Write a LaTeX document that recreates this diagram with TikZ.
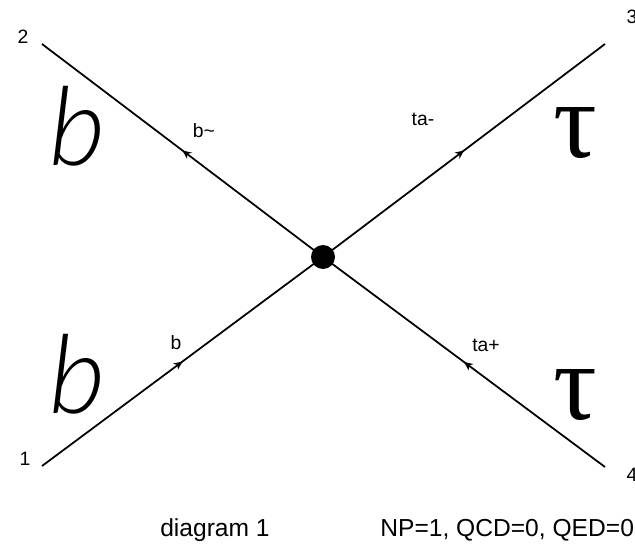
\documentclass[tikz,border=0pt]{standalone}
\usepackage{fontspec}
\setmainfont{Liberation Sans}
\newfontfamily\taufont{Liberation Serif}
\newfontfamily\thinfont{Lato Light}
\usetikzlibrary{arrows.meta,decorations.markings}

\begin{document}
\begin{tikzpicture}[x=0.02cm, y=-0.02cm, >={Stealth[length=5pt,width=4.5pt]},
    fermion/.style={line width=1pt, postaction={decorate},
      decoration={markings, mark=at position 0.5 with {\arrow{>}}}},
    leg/.style={font=\fontsize{11}{13}\selectfont, inner sep=0pt},
    part/.style={font=\fontsize{11}{13}\selectfont, inner sep=0pt},
    big/.style={font=\fontsize{62}{64}\selectfont\thinfont\itshape, inner sep=0pt},
    bigtau/.style={font=\fontsize{62}{64}\selectfont\taufont, inner sep=0pt},
    caption/.style={font=\fontsize{14}{16}\selectfont, inner sep=0pt}]
    \useasboundingbox (0,0) rectangle (635,544);
    \coordinate (p1) at (42,466);
    \coordinate (p2) at (42,44);
    \coordinate (p3) at (605,44);
    \coordinate (p4) at (605,467);
    \node[circle, fill, inner sep=0pt, minimum size=0.48cm] (vtx) at (323,257) {};
    \draw[fermion] (p1) -- (vtx.center);
    \draw[fermion] (vtx.center) -- (p2);
    \draw[fermion] (vtx.center) -- (p3);
    \draw[fermion] (p4) -- (vtx.center);
    % leg numbers
    \node[leg] (n1) at (25,459) {1};
    \node[leg] (n2) at (23,37) {2};
    \node[leg] (n3) at (632,17) {3};
    \node[leg] (n4) at (632,475) {4};
    % particle names
    \node[part] (lb) at (176,343) {b};
    \node[part] (lbb) at (204,131) {b\textasciitilde};
    \node[part] (lta) at (423,119) {ta-};
    \node[part] (ltp) at (486,345) {ta+};
    \node[big] (bup) at (78,126) {b};
    \node[big] (bdn) at (78,374) {b};
    \node[bigtau] (tup) at (575,133) {τ};
    \node[bigtau] (tdn) at (575,395) {τ};
    % captions
    \node[caption] (dia) at (215,530) {diagram 1};
    \node[caption, anchor=west] (ord) at (380,530) {NP=1, QCD=0, QED=0};
\end{tikzpicture}
\end{document}
